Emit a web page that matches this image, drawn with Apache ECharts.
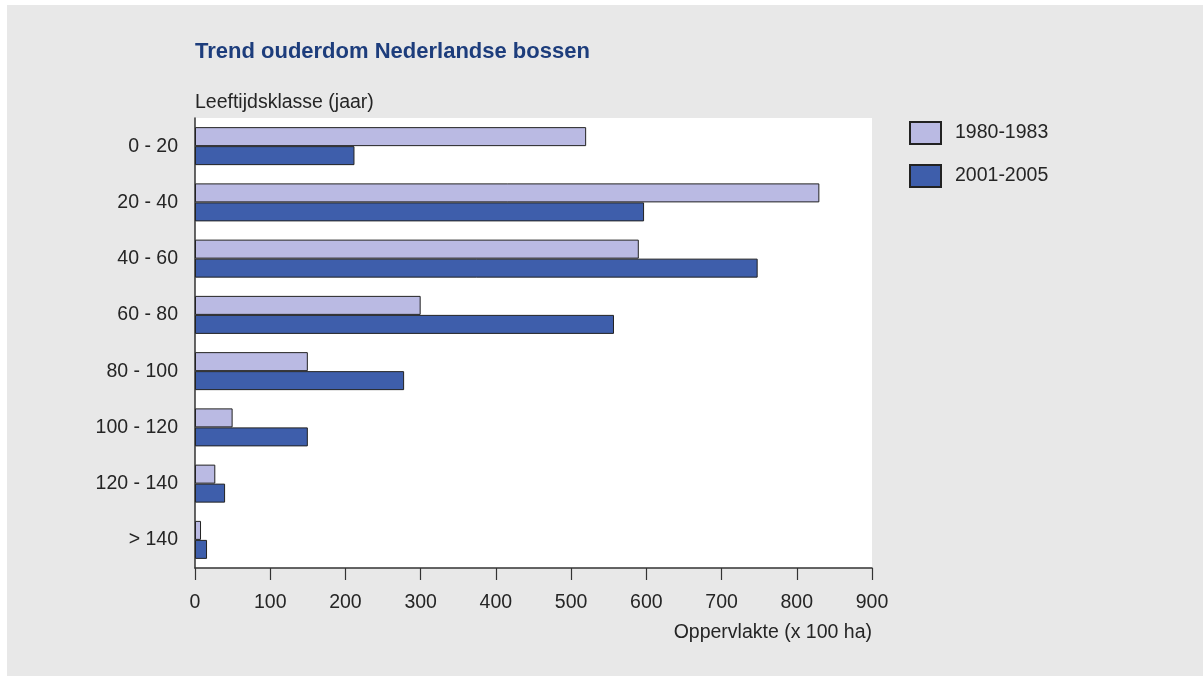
<!DOCTYPE html>
<html>
<head>
<meta charset="utf-8">
<script src="https://cdn.jsdelivr.net/npm/echarts@6/dist/echarts.min.js"></script>
<style>
  html, body { margin: 0; padding: 0; background: #ffffff; }
  #chart { position: absolute; left: 7px; top: 5px; width: 1196px; height: 671px; }
</style>
</head>
<body>
<div id="chart"></div>
<script>
// Age classes (years) and forest area in units of 100 ha
const ageClasses = ['0 - 20', '20 - 40', '40 - 60', '60 - 80', '80 - 100', '100 - 120', '120 - 140', '> 140'];
const period1 = '1980-1983';
const period2 = '2001-2005';
const area1980 = [520, 830, 590, 300, 150, 50, 27, 8];
const area2001 = [212, 597, 748, 557, 278, 150, 40, 16];
const xTicks = [0, 100, 200, 300, 400, 500, 600, 700, 800, 900];

const font = 'Liberation Sans, Arial, sans-serif';
const textColor = '#252525';
const labelSize = 19.5;

const chart = echarts.init(document.getElementById('chart'));
chart.setOption({
  backgroundColor: '#e8e8e8',
  animation: false,
  title: {
    text: 'Trend ouderdom Nederlandse bossen',
    left: 183,
    top: 31,
    textStyle: {
      fontFamily: 'Liberation Sans Narrow, Arial Narrow, sans-serif',
      fontWeight: 'bold',
      fontSize: 22,
      color: '#1d3d7c'
    }
  },
  legend: {
    left: 897,
    top: 111,
    orient: 'vertical',
    itemWidth: 31,
    itemHeight: 22,
    itemGap: 19,
    icon: 'rect',
    textStyle: { fontFamily: font, fontSize: labelSize, color: textColor, padding: [0, 0, 0, 9] },
    data: [period1, period2]
  },
  grid: { left: 188, top: 113, right: 331, bottom: 108, containLabel: false },
  xAxis: {
    type: 'value',
    min: 0,
    max: 900,
    interval: 100,
    axisLine: { show: true, lineStyle: { color: '#333333', width: 1.5 } },
    axisTick: { show: true, length: 12, lineStyle: { color: '#333333', width: 1.2 } },
    axisLabel: { margin: 25, fontFamily: font, fontSize: labelSize, color: textColor,
      formatter: v => xTicks.includes(v) ? String(v) : '' },
    splitLine: { show: false }
  },
  yAxis: {
    type: 'category',
    inverse: true,
    data: ageClasses,
    axisLine: { show: true, lineStyle: { color: '#333333', width: 1.5 } },
    axisTick: { show: false },
    axisLabel: { margin: 17, fontFamily: font, fontSize: labelSize, color: textColor }
  },
  graphic: [
    {
      type: 'rect',
      z: -1,
      shape: { x: 188, y: 113, width: 677, height: 450 },
      style: { fill: '#ffffff' }
    },
    {
      type: 'text',
      left: 188,
      top: 88,
      style: { text: 'Leeftijdsklasse (jaar)', font: labelSize + 'px ' + font, fill: textColor }
    },
    {
      type: 'text',
      right: 331,
      top: 618,
      style: { text: 'Oppervlakte (x 100 ha)', font: labelSize + 'px ' + font, fill: textColor }
    }
  ],
  series: [
    {
      name: period1,
      type: 'bar',
      data: area1980,
      barWidth: 19,
      barGap: '0%',
      itemStyle: { color: '#babae3', borderColor: '#222222', borderWidth: 1 }
    },
    {
      name: period2,
      type: 'bar',
      data: area2001,
      barWidth: 19,
      barGap: '0%',
      itemStyle: { color: '#3e5eab', borderColor: '#222222', borderWidth: 1 }
    }
  ]
});
</script>
</body>
</html>
